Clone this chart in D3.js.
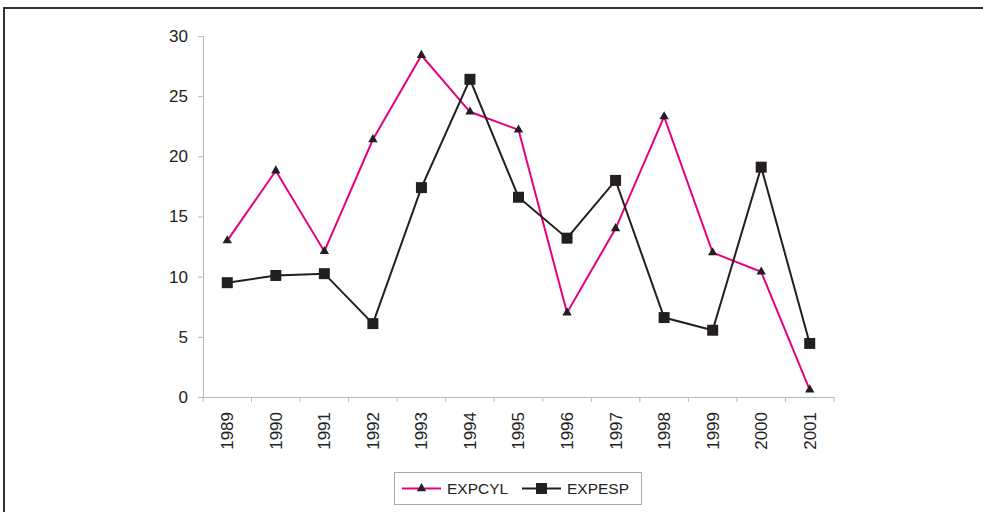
<!DOCTYPE html>
<html>
<head>
<meta charset="utf-8">
<script src="https://cdn.jsdelivr.net/npm/d3@7"></script>
<style>
  body { margin: 0; background: #fff; }
  svg text { font-family: "Liberation Sans", Arial, sans-serif; fill: #222; }
</style>
</head>
<body>
<div id="chart"></div>
<script>
// data
const years = ["1989", "1990", "1991", "1992", "1993", "1994", "1995", "1996", "1997", "1998", "1999", "2000", "2001"];
const expcyl = [13.0, 18.8, 12.1, 21.4, 28.4, 23.7, 22.2, 7.0, 14.0, 23.3, 12.0, 10.4, 0.6];
const expesp = [9.5, 10.1, 10.25, 6.1, 17.4, 26.4, 16.6, 13.2, 18.0, 6.6, 5.55, 19.1, 4.45];
const yTicks = [0, 5, 10, 15, 20, 25, 30];

const width = 983, height = 512;
const pink = "#e6007e", dark = "#231f20", axisColor = "#b8b8b8";

const svg = d3.select("#chart").append("svg")
  .attr("width", width)
  .attr("height", height);

// outer frame (cut off at right and bottom)
svg.append("rect")
  .attr("x", 4).attr("y", 8)
  .attr("width", 1000).attr("height", 520)
  .attr("fill", "none")
  .attr("stroke", "#333")
  .attr("stroke-width", 2);

const x = d3.scaleBand().domain(years).range([203, 834]);
const y = d3.scaleLinear().domain([0, 30]).range([397, 36]);

// y axis
const yAxis = svg.append("g")
  .attr("transform", "translate(203,0)")
  .call(d3.axisLeft(y).tickValues(yTicks).tickSize(5).tickPadding(10));
yAxis.select(".domain").attr("stroke", axisColor);
yAxis.selectAll(".tick line").attr("stroke", axisColor);
yAxis.selectAll(".tick text").attr("font-size", 17).attr("fill", "#222");

// x axis: labels centred in bands, ticks on band edges
const xAxis = svg.append("g")
  .attr("transform", "translate(0,397)")
  .call(d3.axisBottom(x).tickSize(0).tickPadding(0));
xAxis.select(".domain").attr("stroke", axisColor);
xAxis.selectAll(".tick text")
  .attr("font-size", 17)
  .attr("fill", "#222")
  .attr("transform", "rotate(-90)")
  .attr("text-anchor", "end")
  .attr("x", -15)
  .attr("y", 0)
  .attr("dy", "0.35em");

const edges = years.map(d => x(d)).concat([x.range()[1]]);
svg.append("g").selectAll("line")
  .data(edges)
  .join("line")
  .attr("x1", d => d).attr("x2", d => d)
  .attr("y1", 397).attr("y2", 402)
  .attr("stroke", axisColor);

const cx = (d, i) => x(years[i]) + x.bandwidth() / 2;
const line = d3.line().x(cx).y(d => y(d));

svg.append("path")
  .datum(expcyl)
  .attr("d", line)
  .attr("fill", "none")
  .attr("stroke", pink)
  .attr("stroke-width", 2);

svg.append("path")
  .datum(expesp)
  .attr("d", line)
  .attr("fill", "none")
  .attr("stroke", dark)
  .attr("stroke-width", 2);

const tri = d3.symbol().type(d3.symbolTriangle).size(38);
const sq = d3.symbol().type(d3.symbolSquare).size(121);

svg.append("g").selectAll("path")
  .data(expcyl)
  .join("path")
  .attr("d", tri)
  .attr("transform", (d, i) => `translate(${cx(d, i)},${y(d)})`)
  .attr("fill", dark);

svg.append("g").selectAll("path")
  .data(expesp)
  .join("path")
  .attr("d", sq)
  .attr("transform", (d, i) => `translate(${cx(d, i)},${y(d)})`)
  .attr("fill", dark);

// legend
const legend = svg.append("g");
legend.append("rect")
  .attr("x", 394.5).attr("y", 472.5)
  .attr("width", 247).attr("height", 32)
  .attr("fill", "#fff")
  .attr("stroke", "#aaa");

const items = [
  { name: "EXPCYL", color: pink, sym: tri, x0: 402 },
  { name: "EXPESP", color: dark, sym: sq, x0: 522 }
];
items.forEach(it => {
  legend.append("line")
    .attr("x1", it.x0).attr("x2", it.x0 + 39)
    .attr("y1", 488.5).attr("y2", 488.5)
    .attr("stroke", it.color).attr("stroke-width", 2);
  legend.append("path")
    .attr("d", it.sym)
    .attr("transform", `translate(${it.x0 + 19.5},488.5)`)
    .attr("fill", dark);
  legend.append("text")
    .attr("x", it.x0 + 45)
    .attr("y", 488.5)
    .attr("dy", "0.35em")
    .attr("font-size", 15.5)
    .text(it.name);
});
</script>
</body>
</html>
